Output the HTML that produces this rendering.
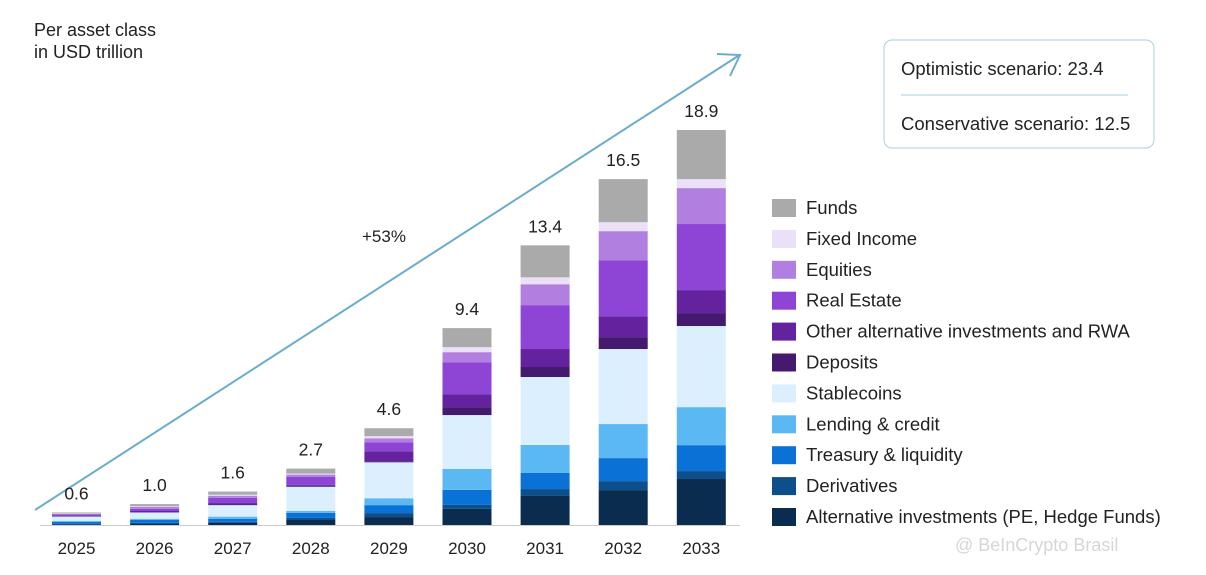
<!DOCTYPE html>
<html><head><meta charset="utf-8"><style>
body{margin:0;background:#fff;font-family:"Liberation Sans",sans-serif;}
svg text{font-family:"Liberation Sans",sans-serif;fill:#222;}
</style></head><body>
<svg width="1206" height="570" viewBox="0 0 1206 570">
<text x="34" y="36" font-size="18">Per asset class</text>
<text x="34" y="58" font-size="18">in USD trillion</text>
<line x1="35" y1="510" x2="738" y2="56" stroke="#6aaccc" stroke-width="2"/>
<polyline points="717,54 740,55 730,76" fill="none" stroke="#6aaccc" stroke-width="2"/>
<text x="362" y="242" font-size="17">+53%</text>
<rect x="884" y="40" width="270" height="108" rx="8" fill="#fff" stroke="#a9cfe0"/>
<text x="901" y="75" font-size="18.5">Optimistic scenario: 23.4</text>
<line x1="901" y1="95" x2="1128" y2="95" stroke="#a9cfe0"/>
<text x="901" y="130" font-size="18.5">Conservative scenario: 12.5</text>
<g id="bars"></g>
<g id="legend"></g>
<text x="955" y="551" font-size="18" style="fill:#d6d6d6">@ BeInCrypto Brasil</text>
</svg>
<script>
const years=["2025","2026","2027","2028","2029","2030","2031","2032","2033"];
const totals=["0.6","1.0","1.6","2.7","4.6","9.4","13.4","16.5","18.9"];
const seriesNames=["Alternative investments (PE, Hedge Funds)","Derivatives","Treasury & liquidity","Lending & credit","Stablecoins","Deposits","Other alternative investments and RWA","Real Estate","Equities","Fixed Income","Funds"];
const colors=["#0a2d4f","#0d4f8a","#0a72d6","#5bb8f2","#dcefff","#431a6e","#65229e","#8e44d4","#b07fe0","#ebe0f7","#aaaaaa"];
const altInv=[0.02,0.05,0.1,0.24,0.38,0.77,1.39,1.67,2.2];
const derivatives=[0.03,0.05,0.05,0.1,0.19,0.19,0.33,0.43,0.38];
const treasury=[0.1,0.15,0.15,0.24,0.38,0.72,0.77,1.1,1.24];
const lending=[0.05,0.05,0.1,0.1,0.33,1.0,1.34,1.63,1.82];
const stablecoins=[0.2,0.3,0.55,1.15,1.72,2.58,3.25,3.59,3.88];
const deposits=[0.02,0.02,0.05,0.05,0.05,0.38,0.48,0.57,0.62];
const otherAlt=[0.03,0.05,0.05,0.05,0.48,0.62,0.86,1.0,1.1];
const realEstate=[0.05,0.1,0.25,0.38,0.43,1.53,2.1,2.68,3.16];
const equities=[0.03,0.1,0.1,0.1,0.19,0.48,1.0,1.39,1.72];
const fixedIncome=[0.02,0.03,0.05,0.05,0.1,0.24,0.33,0.43,0.43];
const funds=[0.05,0.1,0.15,0.24,0.38,0.91,1.53,2.06,2.35];
const series=[altInv,derivatives,treasury,lending,stablecoins,deposits,otherAlt,realEstate,equities,fixedIncome,funds];
const NS="http://www.w3.org/2000/svg";
const base=525, scale=20.9, x0=52, step=78.1, bw=49;
const yPx=v=>base-v*scale;
const xPx=i=>x0+i*step;
const g=document.getElementById('bars');
function mk(t,a){const e=document.createElementNS(NS,t);for(const k in a)e.setAttribute(k,a[k]);return e;}
const axis=mk('line',{x1:40,y1:base+0.5,x2:740,y2:base+0.5,stroke:'#ccc'});


g.appendChild(axis);
years.forEach((yr,i)=>{
  let cum=0;
  series.forEach((s,j)=>{
    const r=mk('rect',{x:xPx(i),y:yPx(cum+s[i]),width:bw,height:s[i]*scale,fill:colors[j]});
    
    
    g.appendChild(r);cum+=s[i];
  });
  const t=mk('text',{x:xPx(i)+bw/2,y:yPx(cum)-13,'font-size':17.5,'text-anchor':'middle'});
  t.textContent=totals[i];
  
  
  g.appendChild(t);
  const l=mk('text',{x:xPx(i)+bw/2,y:554,'font-size':17,'text-anchor':'middle'});
  l.textContent=yr;
  
  
  g.appendChild(l);
});
const lg=document.getElementById('legend');
for(let k=0;k<11;k++){
  const j=10-k, y=208+k*30.9;
  const r=mk('rect',{x:772,y:y-9,width:24,height:18,fill:colors[j]});
  
  
  lg.appendChild(r);
  const t=mk('text',{x:806,y:y+6,'font-size':18.5});
  t.textContent=seriesNames[j];
  
  
  lg.appendChild(t);
}
</script>
</body></html>
